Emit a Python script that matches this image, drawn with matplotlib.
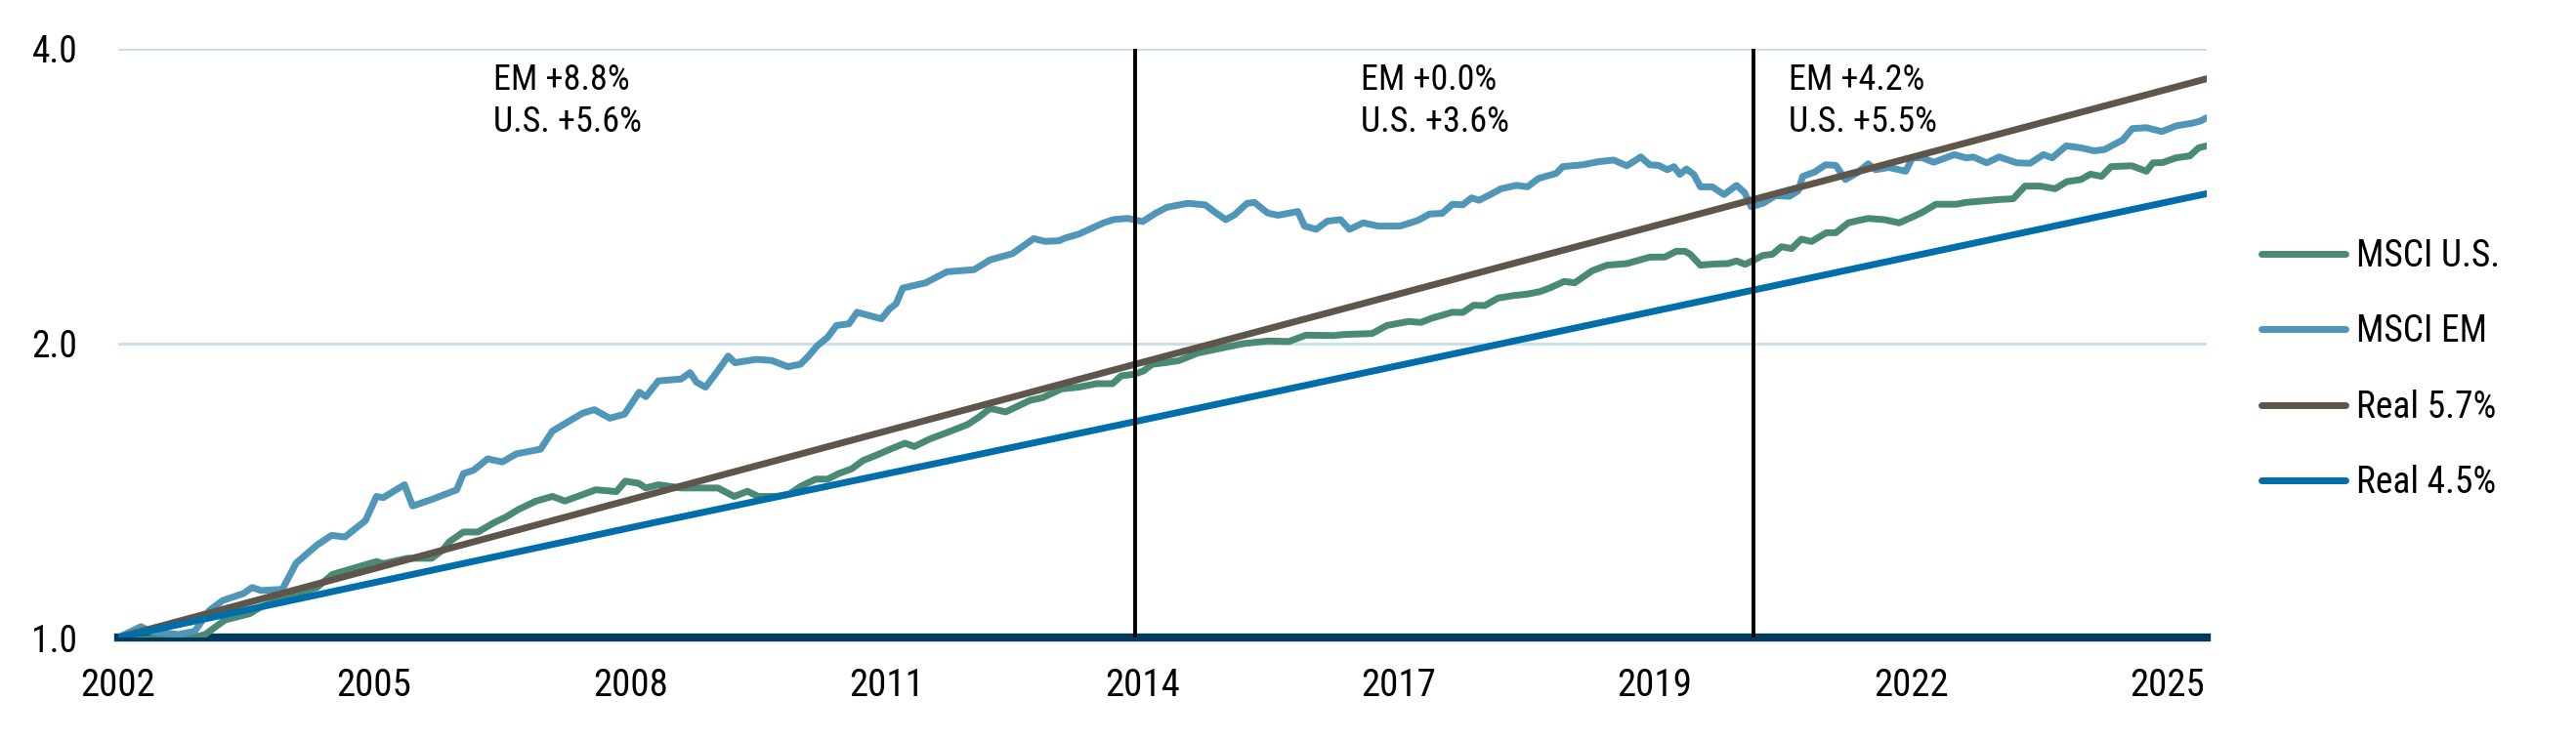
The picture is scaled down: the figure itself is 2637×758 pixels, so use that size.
import matplotlib
matplotlib.use("Agg")
import matplotlib.pyplot as plt
import numpy as np

plt.rcParams["font.family"] = ["Roboto Condensed", "Liberation Sans Narrow", "Roboto", "DejaVu Sans"]

# months since Jan 2002, growth of 1 (log scale)
em_month = [0, 3.1, 4.3, 8.2, 10.4, 12.4, 14.2, 17.0, 18.2, 19.4, 22.3, 24.2, 27.0, 29.0, 30.8,
            33.6, 35.1, 36.0, 38.9, 40.0, 42.6, 46.0, 46.9, 48.3, 50.2, 52.2, 54.1, 57.4, 59.0,
            63.1, 64.7, 66.8, 68.8, 70.8, 71.7, 73.4, 76.5, 77.7, 78.6, 79.8, 81.3, 82.9, 83.8,
            86.7, 88.8, 91.0, 92.7, 93.8, 95.0, 96.4, 97.6, 99.3, 100.4, 103.7, 104.8, 105.7,
            106.6, 109.7, 112.6, 116.3, 118.5, 121.5, 124.4, 125.9, 127.8, 128.7, 130.5, 133.9,
            135.3, 137.2, 139.2, 141.0, 142.5, 145.3, 147.7, 148.9, 150.5, 151.7, 153.4, 154.4,
            156.2, 157.6, 160.3, 161.2, 162.8, 164.3, 166.1, 167.3, 169.2, 171.2, 174.2, 176.6,
            178.2, 179.9, 181.3, 182.7, 183.9, 184.9, 186.3, 187.9, 190.0, 191.5, 193.0, 195.4,
            196.3, 199.0, 201.1, 203.2, 205.0, 206.9, 208.1, 209.3, 210.5, 211.4, 212.2, 213.1,
            214.1, 215.0, 216.6, 218.2, 219.9, 221.0, 221.9, 223.5, 225.2, 227.1, 228.3, 228.9,
            230.5, 232.0, 233.4, 234.7, 236.3, 237.8, 238.8, 240.6, 242.9, 243.8, 245.2, 246.7,
            249.5, 251.1, 252.1, 253.9, 255.6, 258.0, 259.8, 261.6, 262.8, 264.7, 266.7, 268.5,
            269.9, 272.4, 273.7, 275.6, 277.7, 279.7, 281.8, 282.9, 283.8]
em_value = [1.000, 1.026, 1.015, 1.007, 1.015, 1.066, 1.091, 1.109, 1.125, 1.117, 1.120, 1.192,
            1.243, 1.272, 1.267, 1.317, 1.394, 1.390, 1.433, 1.363, 1.384, 1.416, 1.471, 1.483,
            1.523, 1.512, 1.541, 1.558, 1.626, 1.696, 1.710, 1.676, 1.692, 1.782, 1.763, 1.830,
            1.838, 1.866, 1.824, 1.803, 1.866, 1.940, 1.910, 1.925, 1.920, 1.892, 1.903, 1.940,
            1.988, 2.028, 2.085, 2.093, 2.151, 2.118, 2.168, 2.194, 2.277, 2.305, 2.366, 2.378,
            2.434, 2.469, 2.558, 2.542, 2.545, 2.562, 2.585, 2.655, 2.676, 2.683, 2.663, 2.717,
            2.754, 2.780, 2.770, 2.727, 2.675, 2.706, 2.780, 2.786, 2.717, 2.703, 2.727, 2.635,
            2.615, 2.666, 2.675, 2.615, 2.655, 2.635, 2.635, 2.670, 2.711, 2.715, 2.774, 2.770,
            2.816, 2.800, 2.834, 2.877, 2.900, 2.890, 2.948, 2.983, 3.031, 3.044, 3.066, 3.078,
            3.037, 3.101, 3.044, 3.040, 3.009, 3.031, 2.976, 3.014, 2.976, 2.890, 2.890, 2.838,
            2.900, 2.851, 2.758, 2.780, 2.831, 2.826, 2.864, 2.962, 2.992, 3.044, 3.040, 2.940,
            2.987, 3.051, 3.009, 3.025, 2.998, 3.094, 3.094, 3.062, 3.118, 3.094, 3.100, 3.058,
            3.101, 3.058, 3.055, 3.118, 3.094, 3.183, 3.168, 3.146, 3.155, 3.228, 3.315, 3.322,
            3.292, 3.337, 3.357, 3.374, 3.400]

us_month = [0, 3.3, 7.0, 8.0, 11.8, 14.5, 17.9, 19.4, 24.2, 27.0, 29.1, 35.1, 36.0, 39.3, 42.6,
            44.1, 45.0, 46.9, 48.9, 51.1, 52.6, 54.4, 56.8, 59.0, 60.7, 63.1, 64.9, 67.7, 68.9,
            70.7, 71.7, 73.4, 76.5, 81.5, 83.7, 85.5, 87.0, 89.4, 91.2, 92.7, 94.8, 96.4, 97.9,
            99.7, 101.2, 103.1, 104.9, 106.9, 108.2, 110.2, 112.6, 115.4, 116.9, 118.5, 120.6,
            123.9, 125.6, 128.2, 130.5, 132.9, 135.1, 136.3, 138.1, 139.3, 140.5, 142.0, 144.1,
            146.7, 149.5, 152.9, 156.2, 159.1, 161.4, 165.2, 166.4, 170.4, 172.4, 175.4, 177.0,
            178.5, 181.3, 182.7, 184.2, 185.7, 187.5, 189.4, 191.5, 193.2, 194.5, 196.5, 197.9,
            200.3, 202.3, 205.0, 208.1, 210.2, 211.7, 212.9, 213.6, 215.0, 216.9, 218.7, 219.9,
            221.1, 223.5, 224.8, 226.0, 227.4, 228.7, 230.1, 232.1, 233.4, 235.1, 236.5, 237.8,
            240.0, 242.0, 243.8, 245.2, 247.0, 249.8, 251.1, 255.6, 257.5, 259.1, 261.2, 263.2,
            264.8, 266.7, 268.0, 269.5, 270.8, 273.6, 275.6, 276.5, 277.8, 279.6, 281.5, 282.7,
            283.8]
us_value = [1.000, 0.995, 1.005, 0.990, 1.007, 1.042, 1.058, 1.075, 1.108, 1.125, 1.160, 1.196,
            1.190, 1.205, 1.205, 1.229, 1.253, 1.282, 1.282, 1.311, 1.327, 1.352, 1.379, 1.394,
            1.379, 1.400, 1.416, 1.410, 1.445, 1.438, 1.422, 1.433, 1.422, 1.422, 1.394, 1.411,
            1.394, 1.394, 1.402, 1.427, 1.452, 1.452, 1.471, 1.488, 1.517, 1.537, 1.558, 1.580,
            1.568, 1.595, 1.620, 1.651, 1.679, 1.715, 1.701, 1.748, 1.759, 1.796, 1.803, 1.818,
            1.818, 1.852, 1.859, 1.873, 1.903, 1.909, 1.919, 1.954, 1.974, 1.998, 2.010, 2.008,
            2.038, 2.036, 2.041, 2.046, 2.085, 2.105, 2.100, 2.121, 2.151, 2.150, 2.187, 2.185,
            2.224, 2.236, 2.245, 2.258, 2.277, 2.313, 2.305, 2.372, 2.403, 2.412, 2.449, 2.450,
            2.483, 2.483, 2.466, 2.403, 2.410, 2.412, 2.427, 2.408, 2.459, 2.466, 2.510, 2.499,
            2.555, 2.541, 2.594, 2.594, 2.655, 2.670, 2.683, 2.675, 2.655, 2.692, 2.723, 2.774,
            2.774, 2.786, 2.805, 2.810, 2.895, 2.895, 2.877, 2.926, 2.940, 2.978, 2.962, 3.031,
            3.037, 2.998, 3.058, 3.060, 3.094, 3.109, 3.168, 3.183]

real57_month = [0, 72.9, 138.4, 283.8]
real57_value = [1.000, 1.405, 1.905, 3.728]
real45_month = [0, 72.9, 138.4, 283.8]
real45_value = [1.000, 1.311, 1.664, 2.844]

period_breaks = [138.2, 222.2]
period_labels = ["EM +8.8%\nU.S. +5.6%", "EM +0.0%\nU.S. +3.6%", "EM +4.2%\nU.S. +5.5%"]
period_label_x = [51.0, 168.8, 227.0]

year_labels = ["2002", "2005", "2008", "2011", "2014", "2017", "2019", "2022", "2025"]

c_us = "#4A8A75"
c_em = "#5096B9"
c_57 = "#5E554B"
c_45 = "#006EAA"

W, H = 2637, 758
fig = plt.figure(figsize=(W / 100, H / 100), dpi=100)
ax = fig.add_axes([121 / W, 1 - 653 / H, 2138 / W, 603 / H])

lw = 5
ax.plot(us_month, us_value, color=c_us, lw=lw, label="MSCI U.S.", solid_capstyle="round", solid_joinstyle="round", zorder=4)
ax.plot(em_month, em_value, color=c_em, lw=lw, label="MSCI EM", solid_capstyle="round", solid_joinstyle="round", zorder=4)
ax.plot(real57_month, real57_value, color=c_57, lw=lw, label="Real 5.7%", solid_capstyle="round", zorder=5)
ax.plot(real45_month, real45_value, color=c_45, lw=lw, label="Real 4.5%", solid_capstyle="round", zorder=5)

ax.axhline(1.0, color="#003A5C", lw=6, zorder=3, clip_on=False)
for b in period_breaks:
    ax.axvline(b, color="black", lw=2.8, zorder=6)

for lx, txt in zip(period_label_x, period_labels):
    ax.text(lx, 3.87, txt, fontsize=26, va="top", ha="left", linespacing=1.25)

ax.set_yscale("log", base=2)
ax.set_ylim(1, 4)
ax.set_xlim(0, em_month[-1])
ax.set_yticks([1, 2, 4])
ax.set_yticklabels(["1.0", "2.0", "4.0"])
ax.yaxis.set_minor_locator(matplotlib.ticker.NullLocator())
ax.set_xticks(np.arange(len(year_labels)) * 34.8)
ax.set_xticklabels(year_labels)
ax.tick_params(axis="both", length=0, labelsize=27)
ax.tick_params(axis="x", pad=22, labelsize=28)
ax.tick_params(axis="y", pad=30)
ax.yaxis.grid(True, color="#C8DEE8", lw=2)
ax.set_axisbelow(True)
for s in ax.spines.values():
    s.set_visible(False)

leg = ax.legend(loc="center left", bbox_to_anchor=(2300 / 2138 - 121 / 2138, 0.455), frameon=False,
                fontsize=27, handlelength=2.3, handletextpad=0.3, labelspacing=1.08, borderaxespad=0)

fig.savefig("out.png", dpi=100)
